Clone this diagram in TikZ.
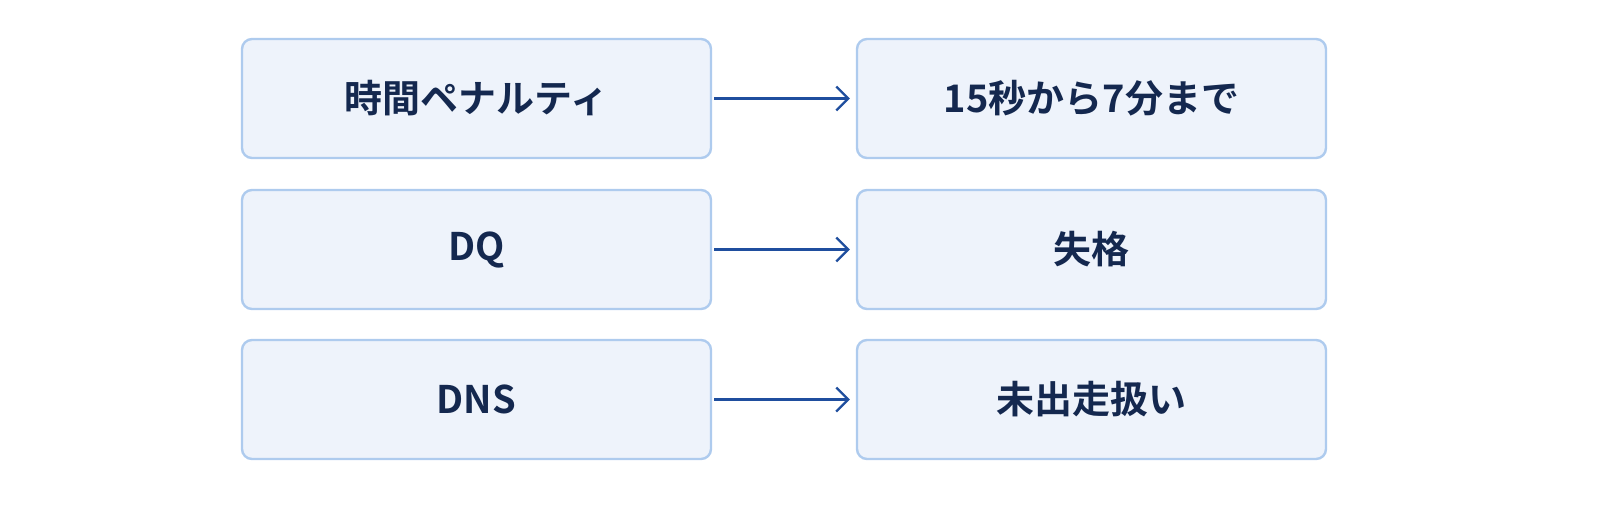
\documentclass[tikz,border=0pt]{standalone}
\usepackage{fontspec}
\setmainfont{Noto Sans CJK JP}[BoldFont={* Bold}]
\usetikzlibrary{positioning,arrows.meta}
\definecolor{boxFill}{HTML}{EEF3FB}
\definecolor{boxLine}{HTML}{AECBEE}
\definecolor{arrowBlue}{HTML}{1F4E9E}
\definecolor{textNavy}{HTML}{14284F}
\tikzset{
    termBox/.style={draw=boxLine, fill=boxFill, line width=1.2pt, rounded corners=5pt,
        minimum width=234.5pt, minimum height=59.5pt, inner sep=0pt,
        text=textNavy, font=\fontsize{19}{22}\selectfont\bfseries},
    mapArrow/.style={draw=arrowBlue, line width=1.1pt, -{Straight Barb[length=6pt,width=12pt,line width=1.1pt]}}
}
\begin{document}
\begin{tikzpicture}[x=0.5pt,y=-0.5pt]
	\useasboundingbox (0,0) rectangle (1600,509);
	\node[termBox] (timeL) at (476.5,98.5) {時間ペナルティ};
	\node[termBox] (timeR) at (1091.5,98.5) {15秒から7分まで};
	\node[termBox] (dqL) at (476.5,249.5) {DQ};
	\node[termBox] (dqR) at (1091.5,249.5) {失格};
	\node[termBox] (dnsL) at (476.5,399.5) {DNS};
	\node[termBox] (dnsR) at (1091.5,399.5) {未出走扱い};
	\draw[mapArrow] (timeL.east) ++(2,0) -- ([xshift=-3pt]timeR.west);
	\draw[mapArrow] (dqL.east) ++(2,0) -- ([xshift=-3pt]dqR.west);
	\draw[mapArrow] (dnsL.east) ++(2,0) -- ([xshift=-3pt]dnsR.west);
\end{tikzpicture}
\end{document}
